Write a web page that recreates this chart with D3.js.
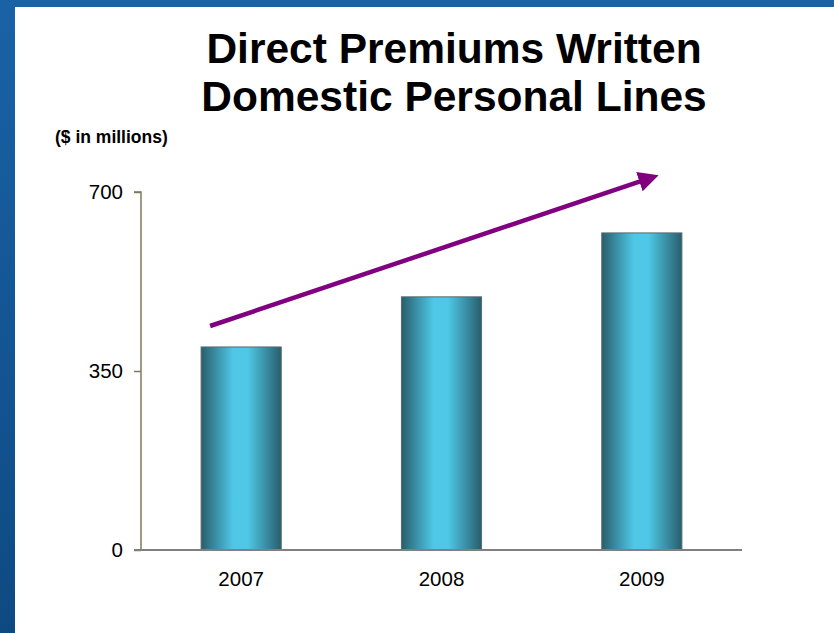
<!DOCTYPE html>
<html>
<head>
<meta charset="utf-8">
<script src="https://cdn.jsdelivr.net/npm/d3@7"></script>
<style>
  html, body { margin: 0; padding: 0; background: #fff; }
  svg { display: block; }
</style>
</head>
<body>
<div id="chart"></div>
<script>
// chart data
const years = ["2007", "2008", "2009"];
const premiums = [397, 495, 620];
const y_ticks = [0, 350, 700];
// trend arrow: [category position, value] at start and end
const trend_pos = [-0.155, 2.055];
const trend_val = [438, 729];

const width = 834;
const height = 633;
const bar_dark = "#285e6c";
const bar_light = "#4ec8e6";
const arrow_color = "#800080";
const font = "Liberation Sans, Arial, sans-serif";

const svg = d3.select("#chart").append("svg")
    .attr("width", width)
    .attr("height", height);

const defs = svg.append("defs");

// blue frame behind the white slide
const frame = defs.append("linearGradient")
    .attr("id", "frame")
    .attr("x1", 0).attr("y1", 0).attr("x2", 0).attr("y2", 1);
frame.append("stop").attr("offset", "0%").attr("stop-color", "#1a62a6");
frame.append("stop").attr("offset", "100%").attr("stop-color", "#0e4a82");

const bar_grad = defs.append("linearGradient")
    .attr("id", "bar_grad")
    .attr("x1", 0).attr("y1", 0).attr("x2", 1).attr("y2", 0);
bar_grad.append("stop").attr("offset", "0%").attr("stop-color", bar_dark);
bar_grad.append("stop").attr("offset", "40%").attr("stop-color", bar_light);
bar_grad.append("stop").attr("offset", "58%").attr("stop-color", bar_light);
bar_grad.append("stop").attr("offset", "100%").attr("stop-color", bar_dark);

defs.append("marker")
    .attr("id", "arrow_head")
    .attr("viewBox", "0 0 10 10")
    .attr("refX", 7).attr("refY", 5)
    .attr("markerWidth", 4.5).attr("markerHeight", 4.5)
    .attr("markerUnits", "strokeWidth")
    .attr("orient", "auto")
    .append("path")
    .attr("d", "M0,0 L10,5 L0,10 z")
    .attr("fill", arrow_color);

svg.append("rect")
    .attr("width", width).attr("height", height)
    .attr("fill", "url(#frame)");
svg.append("rect")
    .attr("x", 15).attr("y", 7)
    .attr("width", width - 15).attr("height", height - 7)
    .attr("fill", "#fff");

// titles
const title = svg.append("text")
    .attr("text-anchor", "middle")
    .attr("font-family", font)
    .attr("font-weight", "bold")
    .attr("font-size", 42.5)
    .attr("fill", "#000");
title.append("tspan").attr("x", 454).attr("y", 63).text("Direct Premiums Written");
title.append("tspan").attr("x", 454).attr("y", 111).text("Domestic Personal Lines");

svg.append("text")
    .attr("x", 55).attr("y", 143)
    .attr("font-family", font)
    .attr("font-weight", "bold")
    .attr("font-size", 17.5)
    .text("($ in millions)");

// scales
const margin_left = 141;
const plot_right = 742;
const yScale = d3.scaleLinear().domain([0, 700]).range([550, 192]);
const xScale = d3.scaleBand()
    .domain(years)
    .range([margin_left, plot_right])
    .paddingInner(0.6)
    .paddingOuter(0.3);
const xPos = d3.scaleLinear()
    .domain([0, years.length - 1])
    .range([xScale(years[0]) + xScale.bandwidth() / 2,
            xScale(years[years.length - 1]) + xScale.bandwidth() / 2]);

// bars
svg.append("g")
    .selectAll("rect")
    .data(premiums)
    .join("rect")
    .attr("x", (d, i) => xScale(years[i]))
    .attr("y", d => yScale(d))
    .attr("width", xScale.bandwidth())
    .attr("height", d => yScale(0) - yScale(d))
    .attr("fill", "url(#bar_grad)")
    .attr("stroke", "#5a6a70")
    .attr("stroke-width", 1);

// y axis
const yAxis = svg.append("g")
    .attr("transform", `translate(${margin_left},0)`)
    .call(d3.axisLeft(yScale).tickValues(y_ticks).tickSize(7).tickPadding(11));
yAxis.select(".domain").attr("stroke", "#7d7b5c").attr("stroke-width", 1.5)
    .attr("d", `M-7,${yScale(700)}H0V${yScale(0)}`);
yAxis.selectAll(".tick line").attr("stroke", "#7d7b5c").attr("stroke-width", 1.5);
yAxis.selectAll(".tick text")
    .attr("font-family", font)
    .attr("font-size", 20.5)
    .attr("fill", "#000");

// x axis
const xAxis = svg.append("g")
    .attr("transform", `translate(0,${yScale(0)})`)
    .call(d3.axisBottom(xScale).tickSize(0).tickPadding(21));
xAxis.select(".domain").attr("stroke", "#808080").attr("stroke-width", 2)
    .attr("d", `M${margin_left - 7},0H${plot_right}`);
xAxis.selectAll(".tick text")
    .attr("font-family", font)
    .attr("font-size", 20.5)
    .attr("fill", "#000");

// trend arrow
svg.append("line")
    .attr("x1", xPos(trend_pos[0]))
    .attr("y1", yScale(trend_val[0]))
    .attr("x2", xPos(trend_pos[1]))
    .attr("y2", yScale(trend_val[1]))
    .attr("stroke", arrow_color)
    .attr("stroke-width", 4.5)
    .attr("marker-end", "url(#arrow_head)");
</script>
</body>
</html>
